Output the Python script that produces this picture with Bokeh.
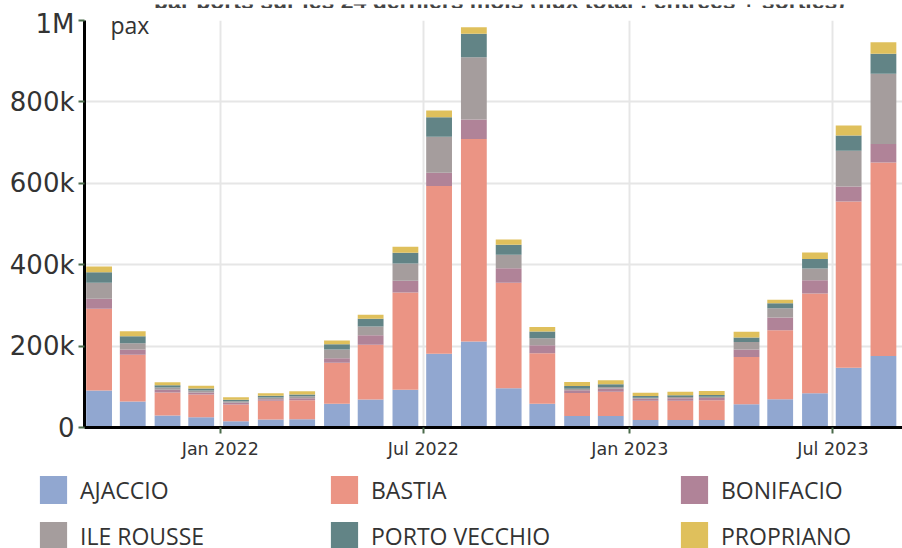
from datetime import datetime
from bokeh.plotting import figure
from bokeh.layouts import column, row
from bokeh.models import ColumnDataSource, Legend, LegendItem, Label, FixedTicker, Range1d
from bokeh.embed import file_html
from bokeh.resources import INLINE

# ---- data (passengers, thousands) ----
months = ["2021-09", "2021-10", "2021-11", "2021-12", "2022-01", "2022-02", "2022-03", "2022-04",
          "2022-05", "2022-06", "2022-07", "2022-08", "2022-09", "2022-10", "2022-11", "2022-12",
          "2023-01", "2023-02", "2023-03", "2023-04", "2023-05", "2023-06", "2023-07", "2023-08"]
ports = ["AJACCIO", "BASTIA", "BONIFACIO", "ILE ROUSSE", "PORTO VECCHIO", "PROPRIANO"]
colors = ["#91a7d0", "#eb9484", "#b08398", "#a59d9d", "#628486", "#dfc05c"]

ajaccio = [91, 64, 29.5, 25.3, 15.5, 19.7, 20.4, 58.2, 68.8, 93, 181.5, 211, 96.4, 58.5, 28.3, 28.3,
           18.5, 18.5, 18.5, 57, 69.4, 84.1, 147.1, 175.9]
bastia = [200.6, 114.7, 56.5, 55.8, 41, 45.9, 46.6, 100.8, 134.4, 238.6, 411.9, 498, 259, 124, 56.6, 59.7,
          47.5, 47.5, 48.4, 116.4, 169.6, 245, 408.4, 475.5]
bonifacio = [24.6, 13, 6.6, 5, 4.2, 3.9, 5, 11.3, 23.6, 28.8, 32.6, 47.5, 36.1, 19.7, 6.6, 7.4,
             4.8, 5.8, 5.7, 18, 31, 32.8, 36.9, 45.3]
ile_rousse = [39.5, 15.5, 5.7, 4.9, 4, 4.2, 5, 21.3, 21.2, 42.6, 88.6, 153.2, 32.8, 17.2, 3.9, 4.2,
              2.5, 3.2, 3.2, 18.6, 23.2, 28.6, 87.8, 172.2]
porto_vecchio = [26, 17, 5.7, 4.9, 3.4, 4.2, 4, 13, 19, 26.3, 47.4, 57.6, 24.6, 16.3, 6.6, 6.7,
                 4.2, 4.2, 4.2, 11, 12.3, 23.2, 37, 49.2]
propriano = [14, 12.5, 7, 6.6, 6.5, 6.4, 8, 9, 9.9, 14.7, 16.6, 16.2, 13, 11.5, 10, 9.7,
             8, 8.8, 9.8, 14, 8.1, 16.2, 24.6, 28.6]

y_ticks = [0, 200000, 400000, 600000, 800000, 1000000]
y_tick_labels = ["0", "200k", "400k", "600k", "800k", "1M"]
x_tick_dates = ["2022-01-01", "2022-07-01", "2023-01-01", "2023-07-01"]
x_tick_labels = ["Jan 2022", "Jul 2022", "Jan 2023", "Jul 2023"]

title_text = "par ports sur les 24 derniers mois (flux total : entrées + sorties)"
unit_text = "pax"

# ---- build ----
EPOCH = datetime(1970, 1, 1)
def ms(d):
    return (d - EPOCH).total_seconds() * 1000.0

x = [datetime(int(m[:4]), int(m[5:]), 15) for m in months]
series = [ajaccio, bastia, bonifacio, ile_rousse, porto_vecchio, propriano]
data = {"x": x}
for name, vals in zip(ports, series):
    data[name] = [v * 1000 for v in vals]
src = ColumnDataSource(data)

# thin strip at the very top holding the (cut-off) title line
strip = figure(width=902, height=8, x_axis_location=None, y_axis_location=None, title=None,
               output_backend="svg", toolbar_location=None,
               min_border_left=0, min_border_right=0, min_border_top=0, min_border_bottom=0)
strip.outline_line_color = None
strip.grid.visible = False
strip.add_layout(Label(x=415, y=12, x_units="screen", y_units="screen", text=title_text,
                       text_align="center", text_baseline="alphabetic", text_font="Liberation Sans",
                       text_font_style="bold", text_font_size="23px", text_color="#444444"))

p = figure(width=902, height=454, x_axis_type="datetime", title=None,
           x_range=Range1d(datetime(2021, 9, 2), datetime(2023, 9, 1)),
           y_range=Range1d(0, 1000000),
           output_backend="svg", toolbar_location=None,
           min_border_left=84, min_border_right=0, min_border_top=12, min_border_bottom=35)
p.outline_line_color = None

renderers = p.vbar_stack(ports, x="x", width=23 * 86400000, fill_color=colors,
                         line_color=None, source=src)

for ax in (p.xaxis[0], p.yaxis[0]):
    ax.axis_line_color = "black"
    ax.axis_line_width = 3
    ax.major_tick_line_color = "#4b6b4b"
    ax.major_tick_line_width = 2
    ax.major_tick_out = 6
    ax.major_tick_in = 0
    ax.minor_tick_line_color = None
    ax.major_label_text_color = "#333333"
    ax.major_label_text_font = "DejaVu Sans"

p.yaxis.ticker = FixedTicker(ticks=y_ticks)
p.yaxis.major_label_overrides = dict(zip(y_ticks, y_tick_labels))
p.yaxis.major_label_text_font_size = "26px"
p.yaxis.major_label_standoff = 4

x_ticks = [ms(datetime.strptime(d, "%Y-%m-%d")) for d in x_tick_dates]
p.xaxis.ticker = FixedTicker(ticks=x_ticks)
p.xaxis.major_label_overrides = dict(zip(x_ticks, x_tick_labels))
p.xaxis.major_label_text_font_size = "17.5px"
p.xaxis.major_label_standoff = 5

for g in (p.xgrid[0], p.ygrid[0]):
    g.grid_line_color = "#e6e6e6"
    g.grid_line_width = 2

p.add_layout(Label(x=26, y=403, x_units="screen", y_units="screen", text=unit_text,
                   text_align="left", text_baseline="alphabetic", text_font="Open Sans",
                   text_font_size="23px", text_color="#333333"))

# legend: three columns of two items, each in its own strip below the chart
leg_widths = [327, 350, 225]
leg_left = [36, 0, 0]
col_items = [(0, 3), (1, 4), (2, 5)]
leg_figs = []
for w, bl, idx in zip(leg_widths, leg_left, col_items):
    f = figure(width=w, height=86, x_axis_location=None, y_axis_location=None,
               output_backend="svg", toolbar_location=None, title=None,
               min_border_left=bl, min_border_right=0, min_border_top=10, min_border_bottom=0)
    f.outline_line_color = None
    f.grid.visible = False
    items = []
    for i in idx:
        key = ColumnDataSource(dict(x=[0], top=[0]))
        r = f.vbar(x="x", top="top", width=1, fill_color=colors[i], line_color=None, source=key)
        items.append(LegendItem(label=ports[i], renderers=[r]))
    leg = Legend(items=items, location="top_left", orientation="vertical",
                 glyph_width=34, glyph_height=35, label_height=28, label_standoff=10,
                 spacing=11, padding=0, margin=0, border_line_color=None,
                 background_fill_alpha=0, label_text_font="Open Sans",
                 label_text_font_size="23px", label_text_color="#333333")
    f.add_layout(leg)
    leg_figs.append(f)

layout = column(strip, p, row(*leg_figs, spacing=0), spacing=0)

open("out.html", "w").write(file_html(layout, INLINE))
